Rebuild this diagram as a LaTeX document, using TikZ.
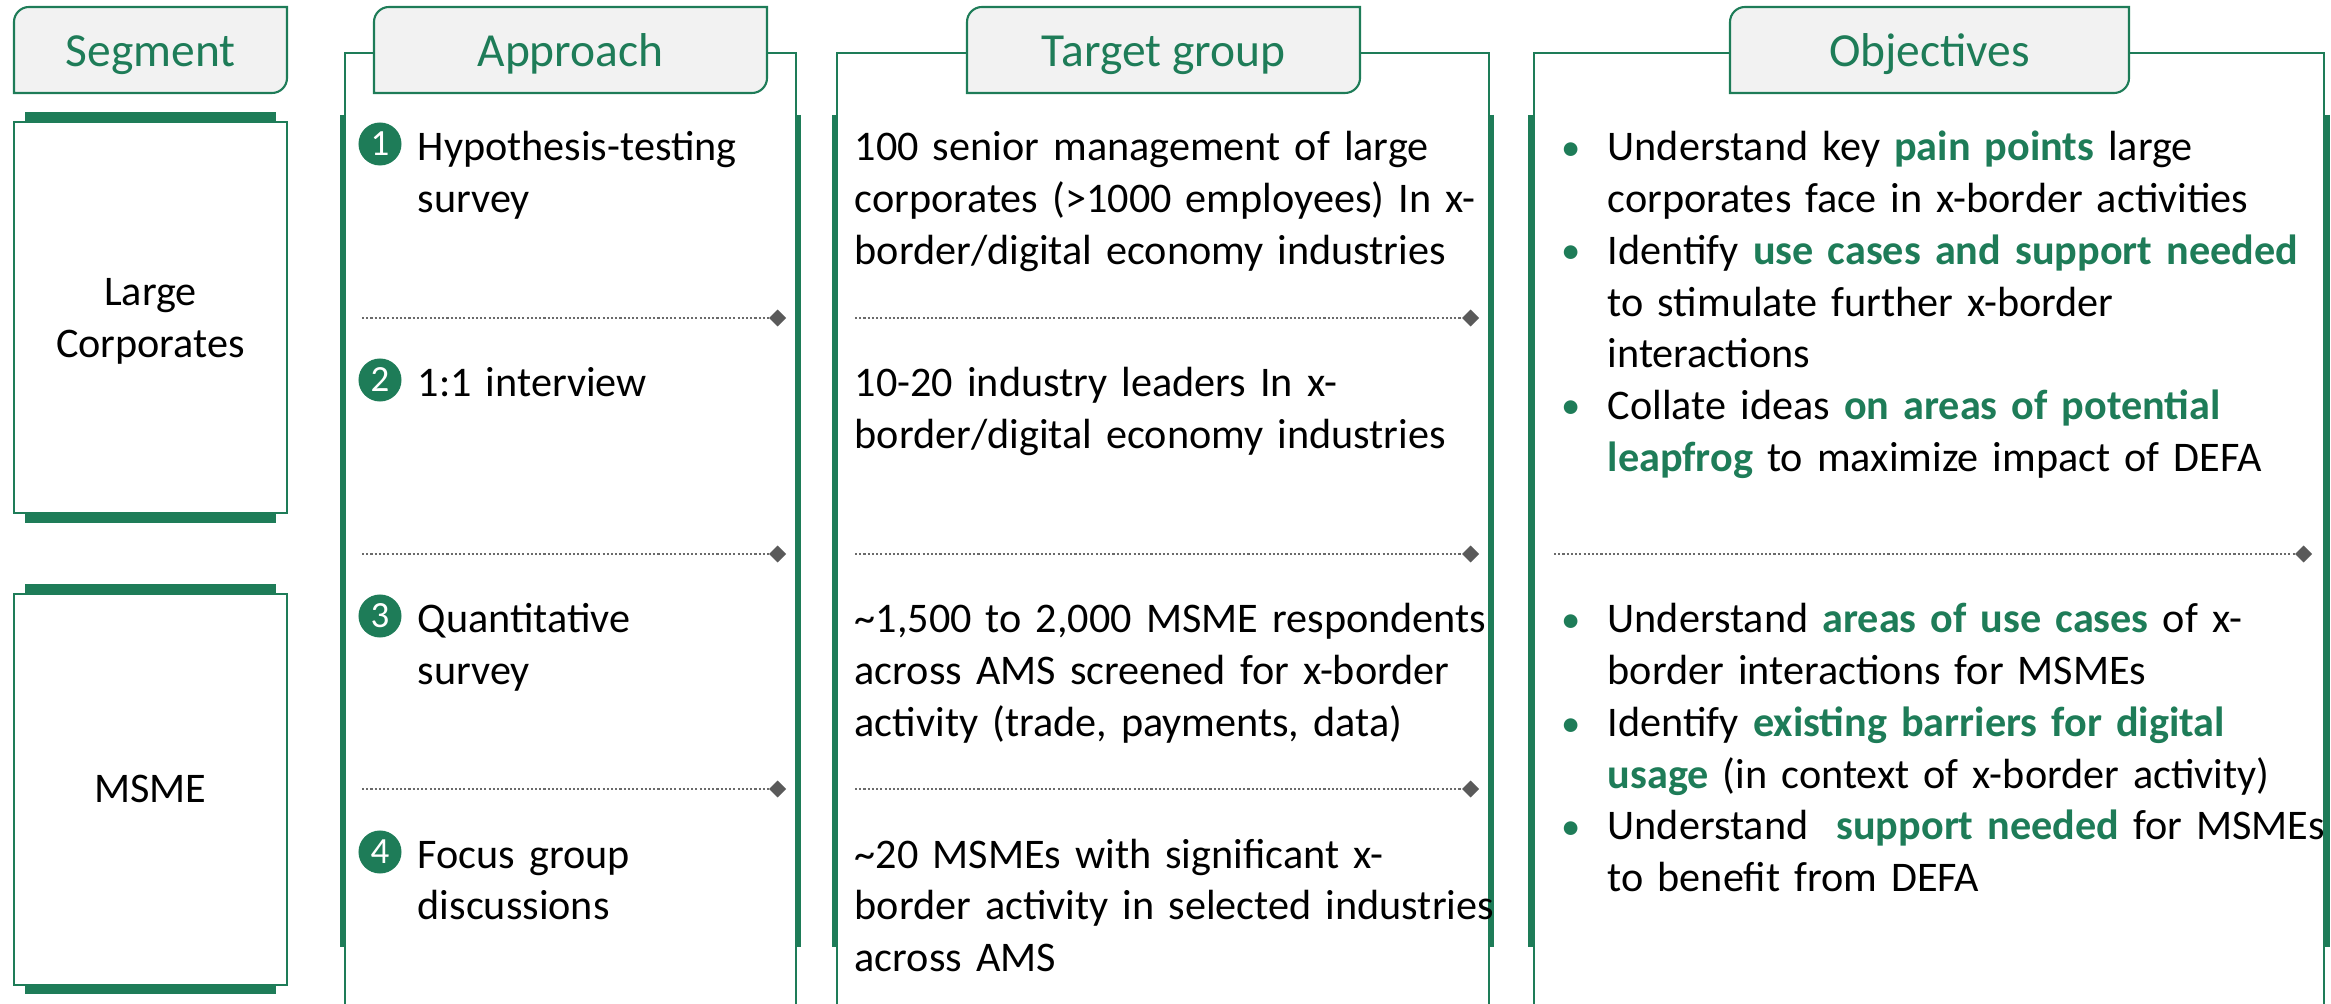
\documentclass[tikz,border=0pt]{standalone}
\usepackage{fontspec}
\setmainfont{Carlito}
\usetikzlibrary{arrows.meta}

\definecolor{dgreen}{HTML}{1E7C58}
\definecolor{hdrgray}{HTML}{F2F2F2}
\definecolor{sepgray}{HTML}{6A6A6A}
\definecolor{tipgray}{HTML}{5A5A5A}

\newcommand{\hl}[1]{\textcolor{dgreen}{\textbf{#1}}}

\tikzset{
	hdr/.style={draw=dgreen, line width=0.6pt, fill=hdrgray},
	hdrtext/.style={anchor=base, inner sep=0pt, text=dgreen, font=\fontsize{13.5}{16}\selectfont},
	col/.style={draw=dgreen, line width=0.6pt},
	colbar/.style={draw=dgreen, line width=1.7pt},
	segbox/.style={draw=dgreen, line width=0.6pt},
	segbar/.style={fill=dgreen},
	sep/.style={draw=sepgray, line width=0.7pt, dash pattern=on 0.6pt off 0.6pt, -{Diamond[length=4.8pt,width=4.8pt,color=tipgray]}},
	body/.style={anchor=base west, inner sep=0pt, align=left, text width=#1, font=\fontsize{12}{14.7}\selectfont},
	segtext/.style={anchor=base, inner sep=0pt, align=center, text width=2.6cm, font=\fontsize{12}{14.7}\selectfont},
	num/.style={circle, fill=dgreen, text=white, inner sep=0pt, minimum size=0.43cm, font=\fontsize{10.5}{10.5}\selectfont},
	bul/.style={anchor=base, inner sep=0pt, text=dgreen, font=\fontsize{11}{14.7}\selectfont},
}

\begin{document}
\begin{tikzpicture}[x=0.01cm, y=-0.01cm]
	\useasboundingbox (0,0) rectangle (2331,1004);
	
	%oszlopok
	\draw[col] (345,1004) -- (345,53) -- (796,53) -- (796,1004);
	\draw[col] (837,1004) -- (837,53) -- (1489,53) -- (1489,1004);
	\draw[col] (1534,1004) -- (1534,53) -- (2324,53) -- (2324,1004);
	
	\draw[colbar] (343,115) -- (343,947);
	\draw[colbar] (798,115) -- (798,947);
	\draw[colbar] (835,115) -- (835,947);
	\draw[colbar] (1491,115) -- (1491,947);
	\draw[colbar] (1531,115) -- (1531,947);
	\draw[colbar] (2327,115) -- (2327,947);
	
	%fejlecek
	\filldraw[hdr] (14,93) -- (14,22) arc[start angle=180, end angle=270, radius=15] -- (287,7) -- (287,78) arc[start angle=0, end angle=90, radius=15] -- cycle;
	\filldraw[hdr] (374,93) -- (374,22) arc[start angle=180, end angle=270, radius=15] -- (767,7) -- (767,78) arc[start angle=0, end angle=90, radius=15] -- cycle;
	\filldraw[hdr] (967,93) -- (967,22) arc[start angle=180, end angle=270, radius=15] -- (1360,7) -- (1360,78) arc[start angle=0, end angle=90, radius=15] -- cycle;
	\filldraw[hdr] (1730,93) -- (1730,22) arc[start angle=180, end angle=270, radius=15] -- (2129,7) -- (2129,78) arc[start angle=0, end angle=90, radius=15] -- cycle;
	
	\node[hdrtext] (hseg) at (150.5,67) {Segment};
	\node[hdrtext] (happ) at (570.5,67) {Approach};
	\node[hdrtext] (htgt) at (1163.5,67) {Target group};
	\node[hdrtext] (hobj) at (1929.5,67) {Objectives};
	
	%szegmensek
	\fill[segbar] (25,112) rectangle (276,122);
	\draw[segbox] (14,122) rectangle (287,513);
	\fill[segbar] (25,513) rectangle (276,523);
	\node[segtext] (seglc) at (150.5,306) {Large\\Corporates};
	
	\fill[segbar] (25,584) rectangle (276,594);
	\draw[segbox] (14,594) rectangle (287,985);
	\fill[segbar] (25,985) rectangle (276,994);
	\node[segtext] (segms) at (150.5,803) {MSME};
	
	%elvalasztok
	\draw[sep] (362,318) -- (786,318);
	\draw[sep] (362,554) -- (786,554);
	\draw[sep] (362,789) -- (786,789);
	\draw[sep] (855,318) -- (1479,318);
	\draw[sep] (855,554) -- (1479,554);
	\draw[sep] (855,789) -- (1479,789);
	\draw[sep] (1554,554) -- (2312,554);
	
	%megkozelites
	\node[num] (n1) at (380,144) {1};
	\node[num] (n2) at (380,380) {2};
	\node[num] (n3) at (380,616) {3};
	\node[num] (n4) at (380,852) {4};
	\node[body=3.7cm] (app1) at (417,161) {Hypothesis-testing\\survey};
	\node[body=3.7cm] (app2) at (417,397) {1:1 interview};
	\node[body=3.7cm] (app3) at (417,633) {Quantitative\\survey};
	\node[body=3.7cm] (app4) at (417,868) {Focus group\\discussions};
	
	%celcsoport
	\node[body=6.5cm] (tgt1) at (854,161) {100 senior management of large\\corporates (>1000 employees) In x-\\border/digital economy industries};
	\node[body=6.5cm] (tgt2) at (854,397) {10-20 industry leaders In x-\\border/digital economy industries};
	\node[body=6.5cm] (tgt3) at (854,633) {\textasciitilde1,500 to 2,000 MSME respondents\\across AMS screened for x-border\\activity (trade, payments, data)};
	\node[body=6.5cm] (tgt4) at (854,868) {\textasciitilde20 MSMEs with significant x-\\border activity in selected industries\\across AMS};
	
	%celok
	\node[bul] (b1) at (1571,161) {\textbullet};
	\node[bul] (b2) at (1571,264) {\textbullet};
	\node[bul] (b3) at (1571,419) {\textbullet};
	\node[bul] (b4) at (1571,633) {\textbullet};
	\node[bul] (b5) at (1571,737) {\textbullet};
	\node[bul] (b6) at (1571,840) {\textbullet};
	\node[body=7.2cm] (obj1) at (1607,161) {Understand key \hl{pain points} large\\corporates face in x-border activities\\Identify \hl{use cases and support needed}\\to stimulate further x-border\\interactions\\Collate ideas \hl{on areas of potential}\\\hl{leapfrog} to maximize impact of DEFA};
	\node[body=7.2cm] (obj2) at (1607,633) {Understand \hl{areas of use cases} of x-\\border interactions for MSMEs\\Identify \hl{existing barriers for digital}\\\hl{usage} (in context of x-border activity)\\Understand\ \ \hl{support needed} for MSMEs\\to benefit from DEFA};
	
\end{tikzpicture}
\end{document}
